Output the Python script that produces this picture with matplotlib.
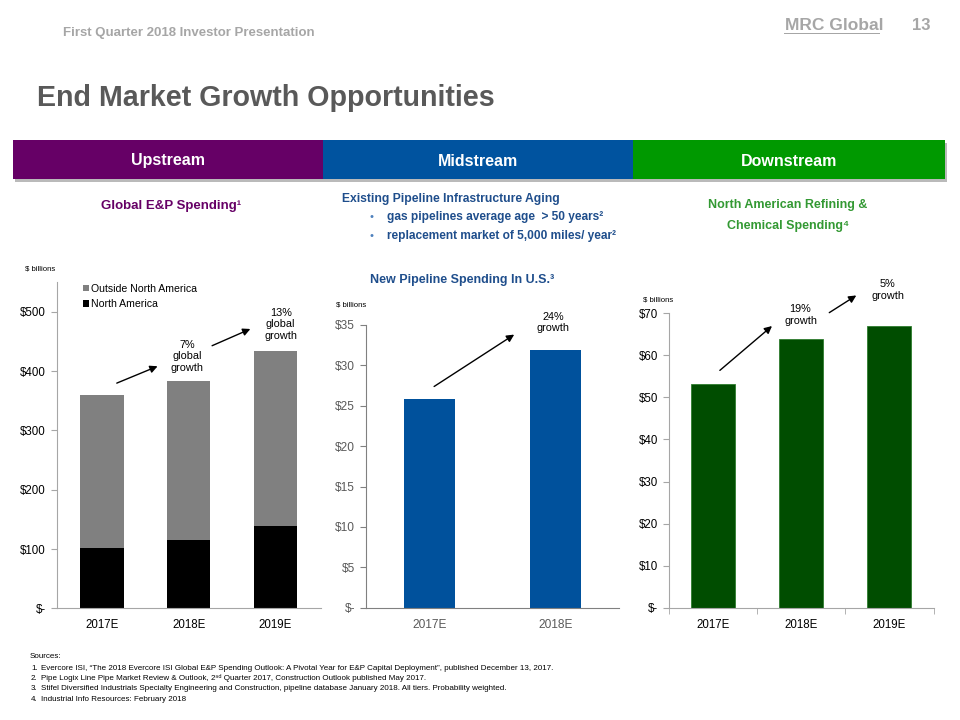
import matplotlib
matplotlib.use("Agg")
import matplotlib.pyplot as plt
from matplotlib.patches import Rectangle
from matplotlib.ticker import FixedLocator

SANS = ['Liberation Sans', 'DejaVu Sans']
plt.rcParams['font.family'] = SANS

# ---------------- data ----------------
up_years = ['2017E', '2018E', '2019E']
up_north_america = [101, 116, 138]
up_total = [359, 384, 434]
up_outside = [t - n for t, n in zip(up_total, up_north_america)]
up_ticks = [0, 100, 200, 300, 400, 500]
up_tick_labels = ['$-', '$100', '$200', '$300', '$400', '$500']

mid_years = ['2017E', '2018E']
mid_values = [25.8, 31.9]
mid_ticks = [0, 5, 10, 15, 20, 25, 30, 35]
mid_tick_labels = ['$-', '$5', '$10', '$15', '$20', '$25', '$30', '$35']

down_years = ['2017E', '2018E', '2019E']
down_values = [53.1, 63.9, 66.9]
down_ticks = [0, 10, 20, 30, 40, 50, 60, 70]
down_tick_labels = ['$-', '$10', '$20', '$30', '$40', '$50', '$60', '$70']

sources = [
    "Evercore ISI, \u201cThe 2018 Evercore ISI Global E&P Spending Outlook: A Pivotal Year for E&P Capital Deployment\u201d, published December 13, 2017.",
    "Pipe Logix Line Pipe Market Review & Outlook, 2\u207f\u1d48 Quarter 2017, Construction Outlook published May 2017.",
    "Stifel Diversified Industrials Specialty Engineering and Construction, pipeline database January 2018. All tiers. Probability weighted.",
    "Industrial Info Resources: February 2018",
]

W, H = 960, 720
fig = plt.figure(figsize=(9.6, 7.2), dpi=100)
fig.patch.set_facecolor('white')

def fx(px):
    return px / W

def fy(py):
    return 1 - py / H

def axes_px(left, top, right, bottom):
    return fig.add_axes([fx(left), fy(bottom), (right - left) / W, (bottom - top) / H])

# ---------------- header ----------------
fig.text(fx(63), fy(33), "First Quarter 2018 Investor Presentation",
         fontsize=9.5, fontweight='bold', color='#A6A6A6', va='center', ha='left')
fig.text(fx(785), fy(25), "MRC Global", fontsize=12.5, fontweight='bold',
         color='#A6A6A6', va='center', ha='left')
fig.add_artist(Rectangle((fx(784), fy(34)), (880 - 784) / W, 1.5 / H, transform=fig.transFigure,
                         color='#A6A6A6', lw=0))
fig.text(fx(912), fy(25), "13", fontsize=12, fontweight='bold',
         color='#A6A6A6', va='center', ha='left')
fig.text(fx(37), fy(98), "End Market Growth Opportunities", fontsize=20.6,
         fontweight='bold', color='#595959', va='center', ha='left')

# ---------------- band ----------------
bands = [("Upstream", 13, 323, '#660066'), ("Midstream", 323, 633, '#00539F'),
         ("Downstream", 633, 945, '#009900')]
fig.add_artist(Rectangle((fx(15), fy(182)), (945 - 13) / W, (182 - 143) / H,
                         transform=fig.transFigure, color='#8C8C8C', lw=0, alpha=0.6))
for name, x0, x1, col in bands:
    fig.add_artist(Rectangle((fx(x0), fy(179)), (x1 - x0) / W, (179 - 140) / H,
                             transform=fig.transFigure, color=col, lw=0))
    fig.text(fx((x0 + x1) / 2), fy(161), name, fontsize=11.5, fontweight='bold',
             color='white', ha='center', va='center')

# ---------------- sub headings ----------------
fig.text(fx(171), fy(206), "Global E&P Spending\u00b9", fontsize=9.5,
         fontweight='bold', color='#660066', ha='center', va='center')
blue_txt = '#1F4E8C'
fig.text(fx(342), fy(199), "Existing Pipeline Infrastructure Aging", fontsize=8.7,
         fontweight='bold', color=blue_txt, ha='left', va='center')
for yy, t in [(217, "gas pipelines average age  > 50 years\u00b2"),
              (236, "replacement market of 5,000 miles/ year\u00b2")]:
    fig.text(fx(370), fy(yy), "\u2022", fontsize=8, color='#4F81BD', ha='left', va='center')
    fig.text(fx(387), fy(yy), t, fontsize=8.6, fontweight='bold',
             color=blue_txt, ha='left', va='center')
fig.text(fx(788), fy(215.5), "North American Refining &\nChemical Spending\u2074",
         fontsize=9, fontweight='bold', color='#339933', ha='center', va='center',
         linespacing=1.95)
fig.text(fx(462), fy(280), "New Pipeline Spending In U.S.\u00b3", fontsize=9,
         fontweight='bold', color=blue_txt, ha='center', va='center')

arrow_kw = dict(arrowstyle='-|>', color='black', lw=1.0, mutation_scale=11)
ANN = 7.8

# ---------------- upstream chart ----------------
ax1 = axes_px(57, 282.2, 320.5, 608.3)
x1 = list(range(len(up_years)))
ax1.bar(x1, up_north_america, width=0.5, color='black', label='North America')
ax1.bar(x1, up_outside, width=0.5, bottom=up_north_america, color='#808080',
        label='Outside North America')
ax1.set_xlim(-0.52, 2.52)
ax1.set_ylim(0, 550)
ax1.yaxis.set_major_locator(FixedLocator(up_ticks))
ax1.set_yticklabels(up_tick_labels)
ax1.set_xticks(x1)
ax1.set_xticklabels(up_years)
for s in ['top', 'right']:
    ax1.spines[s].set_visible(False)
for s in ['left', 'bottom']:
    ax1.spines[s].set_color('#A6A6A6')
ax1.tick_params(axis='y', direction='out', length=4, color='#A6A6A6', labelsize=8.3, pad=4)
ax1.tick_params(axis='x', length=0, labelsize=8.3, pad=8)
handles, labels = ax1.get_legend_handles_labels()
leg = ax1.legend(handles[::-1], labels[::-1], loc='upper left', bbox_to_anchor=(0.078, 1.012),
                 frameon=False, fontsize=7.6, handlelength=0.55, handleheight=0.55,
                 handletextpad=0.25, labelspacing=0.55, borderpad=0)
fig.text(fx(25), fy(269), "$ billions", fontsize=5.6, color='black', ha='left', va='center')
ax1.annotate('', xy=(0.67, 410), xytext=(0.14, 378), arrowprops=arrow_kw, annotation_clip=False)
ax1.annotate('', xy=(1.74, 473), xytext=(1.24, 441), arrowprops=arrow_kw, annotation_clip=False)
ax1.text(0.98, 425, "7%\nglobal\ngrowth", ha='center', va='center', fontsize=ANN, linespacing=1.2)
ax1.text(2.06, 479, "13%\nglobal\ngrowth", ha='center', va='center', fontsize=ANN, linespacing=1.2)

# ---------------- midstream chart ----------------
ax2 = axes_px(366, 325, 619, 607.7)
x2 = list(range(len(mid_years)))
ax2.bar(x2, mid_values, width=0.4, color='#00519C')
ax2.set_xlim(-0.5, 1.5)
ax2.set_ylim(0, 35)
ax2.yaxis.set_major_locator(FixedLocator(mid_ticks))
ax2.set_yticklabels(mid_tick_labels)
ax2.set_xticks(x2)
ax2.set_xticklabels(mid_years)
for s in ['top', 'right']:
    ax2.spines[s].set_visible(False)
for s in ['left', 'bottom']:
    ax2.spines[s].set_color('#808080')
ax2.tick_params(axis='y', direction='out', length=4, color='#808080', labelsize=8.6,
                labelcolor='#595959', pad=4)
ax2.tick_params(axis='x', length=0, labelsize=8.6, labelcolor='#595959', pad=8)
fig.text(fx(336), fy(305), "$ billions", fontsize=5.6, color='black', ha='left', va='center')
ax2.annotate('', xy=(0.69, 34.0), xytext=(0.02, 27.2), arrowprops=arrow_kw, annotation_clip=False)
ax2.text(0.98, 35.3, "24%\ngrowth", ha='center', va='center', fontsize=ANN, linespacing=1.2)

# ---------------- downstream chart ----------------
ax3 = axes_px(669.3, 313.3, 933.5, 607.7)
x3 = list(range(len(down_years)))
ax3.bar(x3, down_values, width=0.5, color='#004D00', edgecolor='#2E7D2E', linewidth=0.6)
ax3.set_xlim(-0.5, 2.5)
ax3.set_ylim(0, 70)
ax3.yaxis.set_major_locator(FixedLocator(down_ticks))
ax3.set_yticklabels(down_tick_labels)
ax3.set_xticks(x3)
ax3.set_xticklabels(down_years)
ax3.set_xticks([-0.5, 0.5, 1.5, 2.5], minor=True)
for s in ['top', 'right']:
    ax3.spines[s].set_visible(False)
for s in ['left', 'bottom']:
    ax3.spines[s].set_color('#A6A6A6')
ax3.tick_params(axis='y', direction='out', length=4, color='#A6A6A6', labelsize=8.3, pad=4)
ax3.tick_params(axis='x', which='major', length=0, labelsize=8.3, pad=8)
ax3.tick_params(axis='x', which='minor', direction='out', length=4, color='#A6A6A6')
fig.text(fx(643), fy(300), "$ billions", fontsize=5.6, color='black', ha='left', va='center')
ax3.annotate('', xy=(0.69, 67.4), xytext=(0.05, 56.0), arrowprops=arrow_kw, annotation_clip=False)
ax3.annotate('', xy=(1.65, 74.6), xytext=(1.29, 69.8), arrowprops=arrow_kw, annotation_clip=False)
ax3.text(0.99, 69.6, "19%\ngrowth", ha='center', va='center', fontsize=ANN, linespacing=1.2)
ax3.text(1.98, 75.6, "5%\ngrowth", ha='center', va='center', fontsize=ANN, linespacing=1.2)

# ---------------- sources ----------------
fig.text(fx(30), fy(657), "Sources:", fontsize=5.8, ha='left', va='center')
for i, s in enumerate(sources):
    yy = 668 + i * 10.5
    fig.text(fx(31), fy(yy), f"{i + 1}.", fontsize=5.8, ha='left', va='center')
    fig.text(fx(41), fy(yy), s, fontsize=5.8, ha='left', va='center')

fig.savefig("out.png", dpi=100, facecolor='white')
